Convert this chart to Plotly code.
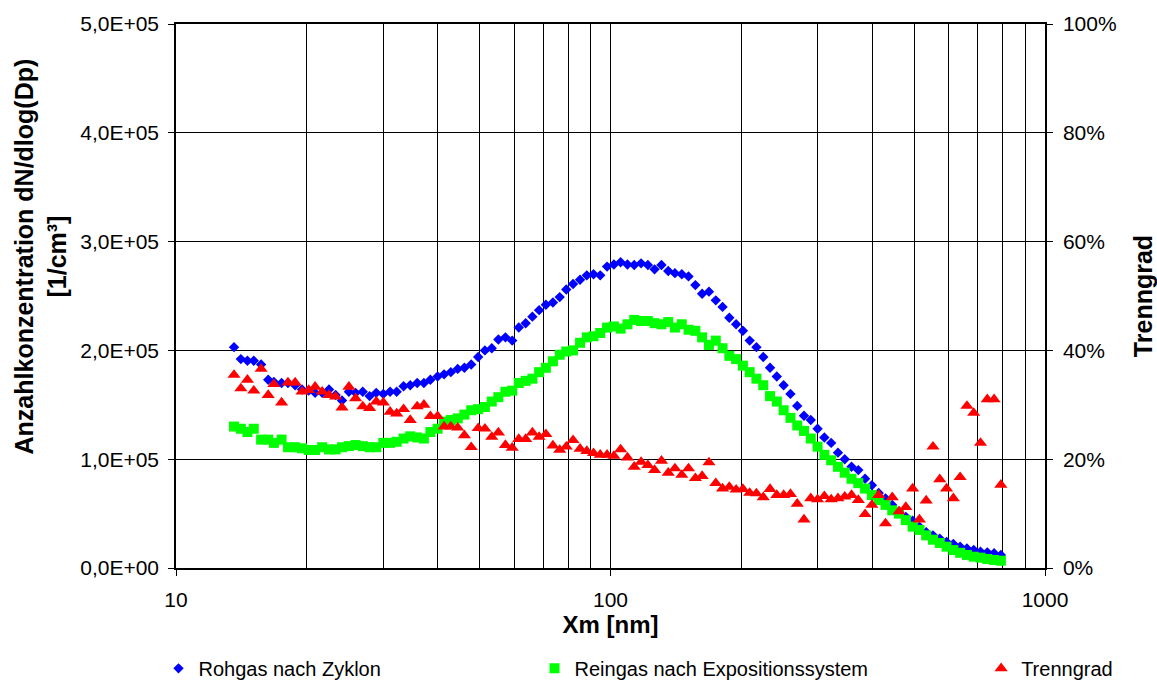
import plotly.graph_objects as go

# particle diameter Xm [nm] (SMPS channel midpoints)
xm_nm = [13.6, 14.1, 14.6, 15.1, 15.7, 16.3, 16.8, 17.5, 18.1, 18.8,
         19.5, 20.2, 20.9, 21.7, 22.5, 23.3, 24.1, 25.0, 25.9, 26.9,
         27.9, 28.9, 30.0, 31.1, 32.2, 33.4, 34.6, 35.9, 37.2, 38.5,
         40.0, 41.4, 42.9, 44.5, 46.1, 47.8, 49.6, 51.4, 53.3, 55.2,
         57.3, 59.4, 61.5, 63.8, 66.1, 68.5, 71.0, 73.7, 76.4, 79.1,
         82.0, 85.1, 88.2, 91.4, 94.7, 98.2, 101.8, 105.5, 109.4, 113.4,
         117.6, 121.9, 126.3, 131.0, 135.8, 140.7, 145.9, 151.2, 156.8, 162.5,
         168.5, 174.7, 181.1, 187.7, 194.6, 201.7, 209.1, 216.7, 224.7, 232.9,
         241.4, 250.3, 259.5, 269.0, 278.8, 289.0, 299.6, 310.6, 322.0, 333.8,
         346.0, 358.7, 371.8, 385.4, 399.5, 414.2, 429.4, 445.1, 461.4, 478.3,
         495.8, 514.0, 532.8, 552.3, 572.5, 593.5, 615.3, 637.8, 661.2, 685.4,
         710.5, 736.5, 763.5, 791.5]

# Rohgas nach Zyklon, dN/dlog(Dp) in 1000 1/cm³
rohgas_k = [203, 192, 190.5, 190.5, 187, 173, 171, 170, 170, 168,
            164, 163, 161, 161, 164, 159, 154, 162, 161, 162,
            158, 161, 160, 162, 162, 167, 168, 170, 170, 173,
            176, 178, 180, 183, 184, 187, 194, 200, 202, 210,
            212, 209, 221, 225, 231, 237, 242, 244, 249, 256,
            261, 265, 269, 270, 269, 277, 279, 281, 279, 278.5,
            280, 278.5, 274.5, 278.5, 273, 271, 270, 268, 260, 252,
            254, 246, 240, 230, 224, 218, 209, 203, 194, 184,
            176, 168, 160, 149, 140, 136, 128, 120, 115, 106,
            100, 93, 90, 82, 76, 69, 64, 58, 52, 47,
            43.5, 38, 33, 30, 27, 24, 22, 19.6, 18, 16.5,
            15, 14.4, 13.5, 12]

# Reingas nach Expositionssystem, dN/dlog(Dp) in 1000 1/cm³
reingas_k = [130, 128, 125, 128, 118, 118, 115, 118, 111, 111,
             110, 108.5, 108.5, 111, 109, 109, 111, 112, 113, 112,
             111, 111, 115, 115, 116, 119, 121, 120, 119, 125,
             128, 134.5, 136, 137.5, 141, 145, 146, 148, 153, 157,
             162, 163, 170, 172, 174, 180, 184, 190, 196, 199,
             200, 207, 212, 213, 216, 221, 222, 220, 224, 228,
             227, 227, 225, 224, 226, 221, 224, 219, 218, 212,
             205, 209, 202, 195, 192, 186, 180, 174, 168, 158,
             153, 145, 138, 131, 126, 119, 111.5, 104, 99, 93,
             87.6, 82, 78, 73, 67, 62.5, 58, 53, 50, 44,
             38, 35, 30, 26, 23, 19.6, 16.5, 14, 12, 10.4,
             9.5, 8.3, 7.4, 6.7]

# Trenngrad in %
trenngrad_pct = [35.5, 33.0, 34.6, 32.6, 36.6, 31.8, 33.8, 30.4, 34.1, 34.1,
                 32.4, 32.7, 33.3, 32.4, 31.8, 31.5, 29.5, 33.3, 31.2, 29.7,
                 29.4, 30.6, 30.4, 28.7, 28.4, 29.2, 27.2, 29.7, 30.0, 27.9,
                 27.9, 26.0, 26.0, 25.8, 24.4, 22.2, 25.7, 25.6, 24.1, 24.9,
                 22.6, 22.1, 23.7, 23.7, 24.9, 24.1, 24.6, 22.5, 21.7, 22.3,
                 23.5, 21.9, 21.5, 21.1, 20.8, 20.8, 20.6, 21.8, 20.3, 18.6,
                 19.5, 18.9, 18.0, 19.7, 17.5, 18.3, 17.1, 18.3, 16.5, 16.9,
                 19.4, 15.6, 14.6, 14.9, 14.4, 14.5, 13.8, 13.7, 13.0, 14.5,
                 13.4, 13.4, 13.6, 11.8, 8.9, 12.8, 12.6, 13.2, 12.6, 12.8,
                 13.1, 13.4, 12.5, 9.9, 11.6, 13.4, 8.2, 13.0, 10.4, 11.2,
                 14.6, 8.9, 12.4, 22.3, 16.3, 14.6, 12.8, 16.7, 29.8, 28.5,
                 23.0, 31.0, 31.0, 15.3]

# axis ticks
x_major = [10, 100, 1000]
x_minor = [20, 30, 40, 50, 60, 70, 80, 90, 200, 300, 400, 500, 600, 700, 800, 900]
y_left_vals = [0, 100000, 200000, 300000, 400000, 500000]
y_left_text = ["0,0E+00", "1,0E+05", "2,0E+05", "3,0E+05", "4,0E+05", "5,0E+05"]
y_right_vals = [0, 20, 40, 60, 80, 100]
y_right_text = ["0%", "20%", "40%", "60%", "80%", "100%"]

FONT = "Liberation Sans, Arial, sans-serif"

fig = go.Figure()
fig.add_trace(go.Scatter(
    x=xm_nm, y=[v * 1000 for v in rohgas_k], mode="markers",
    name="Rohgas nach Zyklon", legend="legend", showlegend=True,
    marker=dict(symbol="diamond", size=8, color="#0000FF", line=dict(width=0))))
fig.add_trace(go.Scatter(
    x=xm_nm, y=[v * 1000 for v in reingas_k], mode="markers",
    name="Reingas nach Expositionssystem", legend="legend2", showlegend=True,
    marker=dict(symbol="square", size=10, color="#00FF00", line=dict(width=0))))
fig.add_trace(go.Scatter(
    x=xm_nm, y=trenngrad_pct, mode="markers", yaxis="y2",
    name="Trenngrad", legend="legend3", showlegend=True,
    marker=dict(symbol="triangle-up", size=11.5, color="#FF0000", line=dict(width=0))))

legend_common = dict(orientation="h", xref="container", yref="container",
                     yanchor="middle", y=0.02, bgcolor="rgba(0,0,0,0)",
                     font=dict(family=FONT, size=20, color="black"))

fig.update_layout(
    width=1157, height=682, showlegend=True,
    margin=dict(l=176, r=112, t=24, b=114, autoexpand=False),
    paper_bgcolor="white", plot_bgcolor="white",
    font=dict(family=FONT, size=21, color="black"),
    legend=dict(x=0.137, **legend_common),
    legend2=dict(x=0.462, **legend_common),
    legend3=dict(x=0.848, **legend_common),
    xaxis=dict(
        type="log", range=[1, 3],
        tickvals=x_major, ticktext=[str(v) for v in x_major],
        ticks="outside", ticklen=6, tickcolor="black",
        showgrid=True, gridcolor="black", gridwidth=1,
        minor=dict(tickvals=x_minor, showgrid=True, gridcolor="black", gridwidth=1, ticks=""),
        showline=True, linecolor="black", linewidth=1.5, mirror=True,
        zeroline=False, ticklabelstandoff=6,
        tickfont=dict(size=21),
        title=dict(text="<b>Xm [nm]</b>", font=dict(size=24), standoff=0),
    ),
    yaxis=dict(
        range=[0, 500000], tickvals=y_left_vals, ticktext=y_left_text,
        ticks="outside", ticklen=6, tickcolor="black",
        showgrid=True, gridcolor="black", gridwidth=1,
        showline=True, linecolor="black", linewidth=1.5,
        zeroline=False, ticklabelstandoff=5,
        tickfont=dict(size=21),
    ),
    yaxis2=dict(
        overlaying="y", side="right", range=[0, 100],
        tickvals=y_right_vals, ticktext=y_right_text,
        ticks="outside", ticklen=6, tickcolor="black",
        showgrid=False, showline=True, linecolor="black", linewidth=1.5,
        zeroline=False, ticklabelstandoff=6,
        tickfont=dict(size=21),
        title=dict(text="<b>Trenngrad</b>", font=dict(size=25), standoff=19),
    ),
    annotations=[dict(
        text="<b>Anzahlkonzentration dN/dlog(Dp)<br>[1/cm³]</b>",
        xref="paper", yref="paper", x=-0.156, y=0.5735,
        xanchor="center", yanchor="middle", textangle=-90, showarrow=False,
        font=dict(family=FONT, size=25, color="black"))],
)

fig.write_html("out.html")
